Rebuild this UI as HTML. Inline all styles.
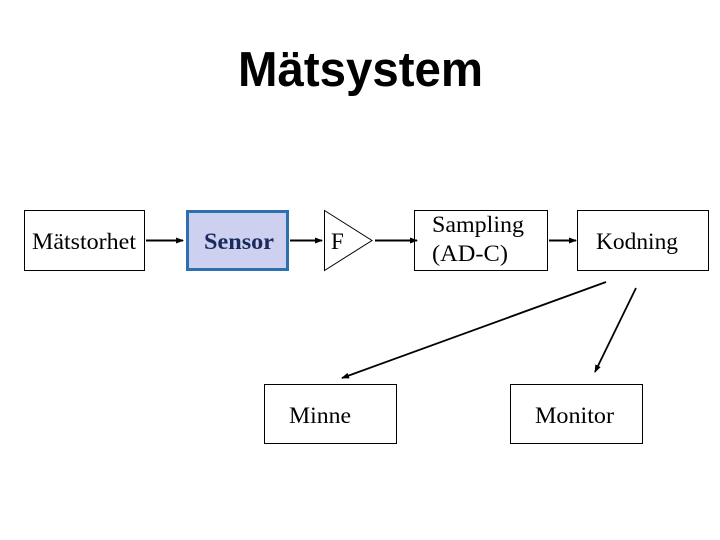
<!DOCTYPE html>
<html><head><meta charset="utf-8"><style>
html,body{margin:0;padding:0;background:#fff;}
svg{display:block;}
</style></head><body>
<svg width="720" height="540" viewBox="0 0 720 540" xmlns="http://www.w3.org/2000/svg">
<defs>
<marker id="a" markerWidth="8" markerHeight="6" refX="7" refY="3" orient="auto" markerUnits="userSpaceOnUse">
<path d="M0,0 L8,3 L0,6 z" fill="#000"/>
</marker>
</defs>
<text x="238" y="86" font-family="Liberation Sans, sans-serif" font-weight="bold" font-size="49" textLength="245" lengthAdjust="spacingAndGlyphs">Mätsystem</text>
<g fill="#fff" stroke="#000" stroke-width="1">
<rect x="24.5" y="210.5" width="120" height="60"/>
<rect x="414.5" y="210.5" width="133" height="60"/>
<rect x="577.5" y="210.5" width="131" height="60"/>
<rect x="264.5" y="384.5" width="132" height="59"/>
<rect x="510.5" y="384.5" width="132" height="59"/>
<polygon points="324.5,210.5 372,240.5 324.5,270.5"/>
</g>
<rect x="187.5" y="211.5" width="100" height="58" fill="#cdd0ee" stroke="#2e6fb0" stroke-width="3"/>
<g font-family="Liberation Serif, serif" font-size="23" fill="#000">
<text x="32" y="249" textLength="104" lengthAdjust="spacingAndGlyphs">Mätstorhet</text>
<text x="204" y="249" font-weight="bold" fill="#1a2a5e" textLength="70" lengthAdjust="spacingAndGlyphs">Sensor</text>
<text x="331" y="249">F</text>
<text x="432" y="232" textLength="92" lengthAdjust="spacingAndGlyphs">Sampling</text>
<text x="432" y="261" textLength="76" lengthAdjust="spacingAndGlyphs">(AD-C)</text>
<text x="596" y="249" textLength="82" lengthAdjust="spacingAndGlyphs">Kodning</text>
<text x="289" y="423" textLength="62" lengthAdjust="spacingAndGlyphs">Minne</text>
<text x="535" y="423" textLength="79" lengthAdjust="spacingAndGlyphs">Monitor</text>
</g>
<g stroke="#000" stroke-width="2" marker-end="url(#a)">
<line x1="146" y1="240.5" x2="183" y2="240.5"/>
<line x1="290" y1="240.5" x2="322" y2="240.5"/>
<line x1="375" y1="240.5" x2="417" y2="240.5"/>
<line x1="549" y1="240.5" x2="576" y2="240.5"/>
<line x1="606" y1="282" x2="342" y2="378" stroke-width="1.8"/>
<line x1="636" y1="288" x2="595" y2="372" stroke-width="1.8"/>
</g>
</svg>
</body></html>
